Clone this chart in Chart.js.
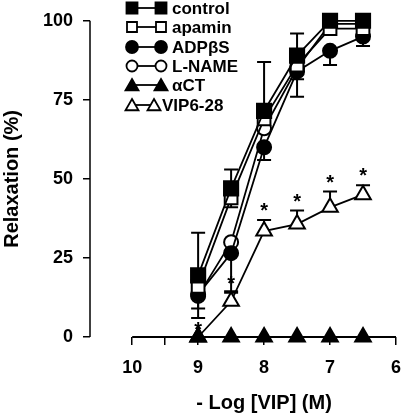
<!DOCTYPE html>
<html>
<head>
<meta charset="utf-8">
<script src="https://cdn.jsdelivr.net/npm/chart.js"></script>
<style>
  html, body { margin: 0; padding: 0; background: #fff; }
  #wrap { width: 413px; height: 416px; }
</style>
</head>
<body>
<div id="wrap"><canvas id="c" width="413" height="416"></canvas></div>
<script>
// ---- data ----
const logVIP = [9, 8.5, 8, 7.5, 7, 6.5];
const seriesNames = ['control', 'apamin', 'ADPβS', 'L-NAME', 'αCT', 'VIP6-28'];
const control = [19.5, 47, 71.5, 89, 100, 100];
const apamin  = [16, 44, 69, 86, 97.5, 97.5];
const adpbs   = [13.5, 26.5, 60, 84, 90.5, 95];
const lname   = [13, 30, 66, 85, 99, 99];
const act     = [0, 0, 0, 0, 0, 0];
const vip628  = [0, 11.3, 33.5, 35.7, 41, 45];
// error bar ends (null = none visible)
const controlErrHi = [33, 53, 87, 96, null, null];
const apaminErrLo  = [9, 41, null, 81.5, null, null];
const adpbsErrLo   = [6, 14.5, 56, 76, 86, 92];
const vip628ErrHi  = [null, 14, 37, 40, 46, 48];
const vip628Signif = [true, true, true, true, true, true];
const xTicks = [10, 9.5, 9, 8, 7, 6];
const xTickLabels = ['10', '', '9', '8', '7', '6'];
const yTicks = [0, 25, 50, 75, 100];

const FONT = '"Liberation Sans", Arial, Helvetica, sans-serif';

const pts = arr => logVIP.map((x, i) => ({ x: x, y: arr[i] }));

const styles = [
  { style: 'rect', fill: '#000', r: 10 },
  { style: 'rect', fill: '#fff', r: 9 },
  { style: 'circle', fill: '#000', r: 7 },
  { style: 'circle', fill: '#fff', r: 7 },
  { style: 'triangle', fill: '#000', r: 9 },
  { style: 'triangle', fill: '#fff', r: 9 }
];
const seriesData = [control, apamin, adpbs, lname, act, vip628];

const datasets = seriesData.map((arr, i) => ({
  label: seriesNames[i],
  data: pts(arr),
  borderColor: '#000',
  borderWidth: 1.8,
  pointStyle: styles[i].style,
  pointRadius: styles[i].r,
  pointBackgroundColor: styles[i].fill,
  pointBorderColor: '#000',
  pointBorderWidth: 2,
  tension: 0,
  clip: false
}));

const errSets = [
  { vals: control, ends: controlErrHi },
  { vals: apamin, ends: apaminErrLo },
  { vals: adpbs, ends: adpbsErrLo },
  { vals: vip628, ends: vip628ErrHi }
];

function drawMarker(ctx, style, fill, x, y, r) {
  ctx.save();
  ctx.beginPath();
  if (style === 'rect') {
    ctx.rect(x - r, y - r, 2 * r, 2 * r);
  } else if (style === 'circle') {
    ctx.arc(x, y, r, 0, Math.PI * 2);
  } else {
    const w = r * Math.sqrt(3) / 2 * 1.0;
    ctx.moveTo(x, y - r);
    ctx.lineTo(x + w, y + r / 2);
    ctx.lineTo(x - w, y + r / 2);
    ctx.closePath();
  }
  ctx.fillStyle = fill;
  ctx.fill();
  ctx.lineWidth = 1.8;
  ctx.strokeStyle = '#000';
  ctx.stroke();
  ctx.restore();
}

const customPlugin = {
  id: 'custom',
  beforeDatasetsDraw(chart) {
    const ctx = chart.ctx;
    const xs = chart.scales.x, ys = chart.scales.y;
    ctx.save();
    ctx.strokeStyle = '#000';
    // axis lines
    ctx.lineWidth = 1.5;
    ctx.beginPath();
    const ax = chart.chartArea.left;
    ctx.moveTo(ax, ys.getPixelForValue(100));
    ctx.lineTo(ax, ys.getPixelForValue(0));
    ctx.stroke();
    ctx.lineWidth = 2;
    ctx.beginPath();
    const ay = ys.getPixelForValue(0);
    ctx.moveTo(xs.getPixelForValue(10), ay);
    ctx.lineTo(xs.getPixelForValue(6), ay);
    ctx.stroke();
    // error bars
    ctx.lineWidth = 2;
    errSets.forEach(s => {
      s.ends.forEach((e, i) => {
        if (e === null) return;
        const px = xs.getPixelForValue(logVIP[i]);
        const p0 = ys.getPixelForValue(s.vals[i]);
        const p1 = ys.getPixelForValue(e);
        ctx.beginPath();
        ctx.moveTo(px, p0);
        ctx.lineTo(px, p1);
        ctx.moveTo(px - 7, p1);
        ctx.lineTo(px + 7, p1);
        ctx.stroke();
      });
    });
    ctx.restore();
  },
  afterDatasetsDraw(chart) {
    const ctx = chart.ctx;
    const xs = chart.scales.x, ys = chart.scales.y;
    ctx.save();
    // asterisks
    ctx.fillStyle = '#000';
    ctx.font = 'bold 20px ' + FONT;
    ctx.textAlign = 'center';
    ctx.textBaseline = 'alphabetic';
    vip628Signif.forEach((s, i) => {
      if (!s) return;
      const hasCap = vip628ErrHi[i] !== null;
      const top = hasCap ? vip628ErrHi[i] : vip628[i];
      const px = xs.getPixelForValue(logVIP[i]);
      const py = ys.getPixelForValue(top) - (hasCap ? 3 : 1);
      ctx.fillText('*', px, py);
    });
    // x axis title
    ctx.font = 'bold 20px ' + FONT;
    ctx.textBaseline = 'middle';
    const cx = (xs.getPixelForValue(10) + xs.getPixelForValue(6)) / 2;
    ctx.fillText('- Log [VIP] (M)', cx, 403);
    // legend
    const rowY = [8, 27, 47, 66, 85, 105];
    const lstyles = [
      { style: 'rect', fill: '#000', r: 5.5 },
      { style: 'rect', fill: '#fff', r: 5 },
      { style: 'circle', fill: '#000', r: 6 },
      { style: 'circle', fill: '#fff', r: 5.5 },
      { style: 'triangle', fill: '#000', r: 7.5 },
      { style: 'triangle', fill: '#fff', r: 7.5 }
    ];
    ctx.font = 'bold 17px ' + FONT;
    ctx.textAlign = 'left';
    seriesNames.forEach((n, i) => {
      const y = rowY[i];
      const x1 = 132, x2 = (i === 5 ? 154 : 161);
      const ty = lstyles[i].style === 'triangle' ? y + 1.5 : y;
      ctx.strokeStyle = '#000';
      ctx.lineWidth = 1.8;
      ctx.beginPath();
      ctx.moveTo(x1, y);
      ctx.lineTo(x2, y);
      ctx.stroke();
      drawMarker(ctx, lstyles[i].style, lstyles[i].fill, x1, ty, lstyles[i].r);
      drawMarker(ctx, lstyles[i].style, lstyles[i].fill, x2, ty, lstyles[i].r);
      ctx.fillStyle = '#000';
      ctx.fillText(n, i === 5 ? 162 : 172, y + 1);
    });
    ctx.restore();
  }
};

new Chart(document.getElementById('c'), {
  type: 'line',
  data: { datasets: datasets },
  plugins: [customPlugin],
  options: {
    responsive: false,
    animation: false,
    devicePixelRatio: 1,
    layout: { padding: { top: 9, right: 11, left: 0, bottom: 0 } },
    plugins: { legend: { display: false }, tooltip: { enabled: false } },
    scales: {
      x: {
        type: 'linear',
        reverse: true,
        min: 6,
        max: 10 + 43 / 67.25,
        afterBuildTicks: s => { s.ticks = xTicks.map(v => ({ value: v })); },
        afterFit: s => { s.height = 79; },
        ticks: {
          autoSkip: false,
          maxRotation: 0,
          color: '#000',
          font: { family: FONT, size: 18, weight: 'bold' },
          padding: 12,
          callback: (v) => { const k = xTicks.indexOf(v); return k >= 0 ? xTickLabels[k] : ''; }
        },
        grid: { display: true, drawOnChartArea: false, drawTicks: true, tickLength: 8, color: '#000', lineWidth: 1.5 },
        border: { display: false }
      },
      y: {
        min: 0,
        max: 100,
        afterBuildTicks: s => { s.ticks = yTicks.map(v => ({ value: v })); },
        afterFit: s => { s.width = 90; },
        ticks: {
          color: '#000',
          font: { family: FONT, size: 18, weight: 'bold' },
          padding: 10
        },
        title: {
          display: true,
          text: 'Relaxation (%)',
          color: '#000',
          font: { family: FONT, size: 20, weight: 'bold' },
          padding: 0
        },
        grid: { display: true, drawOnChartArea: false, drawTicks: true, tickLength: 7, color: '#000', lineWidth: 1.5 },
        border: { display: false }
      }
    }
  }
});
</script>
</body>
</html>
